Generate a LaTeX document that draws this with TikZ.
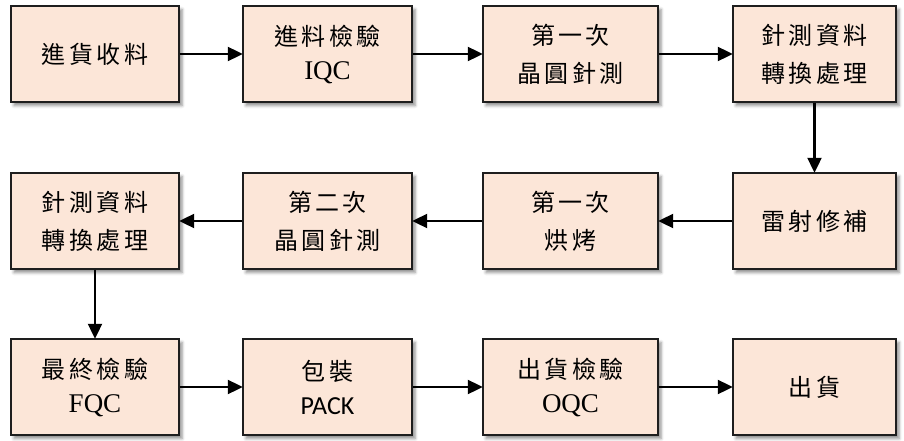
\documentclass[tikz,border=0pt]{standalone}
\usepackage{fontspec}
\setmainfont{Liberation Serif}
\newfontfamily\cjk{Noto Sans CJK TC}[LetterSpace=14]
\newfontfamily\pk{Carlito}
\usetikzlibrary{arrows.meta,shadows.blur}
\definecolor{boxfill}{RGB}{252,230,216}
\definecolor{boxline}{RGB}{30,30,30}
\tikzset{
  box/.style={rectangle, draw=boxline, line width=1.4pt, fill=boxfill,
    minimum height=96pt, inner sep=0pt, align=center,
    font=\cjk\fontsize{24pt}{38pt}\selectfont,
    blur shadow={shadow xshift=3pt, shadow yshift=-3.5pt, shadow blur radius=3pt, shadow opacity=45}},
  c1/.style={box, minimum width=168pt},
  c2/.style={box, minimum width=169pt},
  c3/.style={box, minimum width=175pt},
  c4/.style={box, minimum width=163pt},
  arr/.style={line width=2.1pt, -{Triangle[length=15pt,width=14pt]}, shorten >=-0.5pt}
}
\newcommand{\lat}[1]{{\rmfamily\fontsize{27pt}{30pt}\selectfont #1}}
\newcommand{\pack}[1]{{\pk\fontsize{26pt}{30pt}\selectfont #1}}
\begin{document}
\begin{tikzpicture}[x=1pt,y=1pt]
\useasboundingbox (0,0) rectangle (904,-441);
% row 1
\node[c1] (a1) at (95,-54) {進貨收料};
\node[c2] (a2) at (327.5,-54) {進料檢驗\\[-4pt]\lat{IQC}};
\node[c3] (a3) at (570.5,-54) {第一次\\晶圓針測};
\node[c4] (a4) at (814.5,-54) {針測資料\\轉換處理};
% row 2
\node[c4] (b4) at (814.5,-221) {雷射修補};
\node[c3] (b3) at (570.5,-221) {第一次\\烘烤};
\node[c2] (b2) at (327.5,-221) {第二次\\晶圓針測};
\node[c1] (b1) at (95,-221) {針測資料\\轉換處理};
% row 3
\node[c1] (c1n) at (95,-387) {最終檢驗\\[-4pt]\lat{FQC}};
\node[c2] (c2n) at (327.5,-387) {包裝\\[-4pt]\pack{PACK}};
\node[c3] (c3n) at (570.5,-387) {出貨檢驗\\[-4pt]\lat{OQC}};
\node[c4] (c4n) at (814.5,-387) {出貨};
% connectors
\draw[arr] (a1) -- (a2);
\draw[arr] (a2) -- (a3);
\draw[arr] (a3) -- (a4);
\draw[arr] (a4) -- (b4);
\draw[arr] (b4) -- (b3);
\draw[arr] (b3) -- (b2);
\draw[arr] (b2) -- (b1);
\draw[arr] (b1) -- (c1n);
\draw[arr] (c1n) -- (c2n);
\draw[arr] (c2n) -- (c3n);
\draw[arr] (c3n) -- (c4n);
\end{tikzpicture}
\end{document}
